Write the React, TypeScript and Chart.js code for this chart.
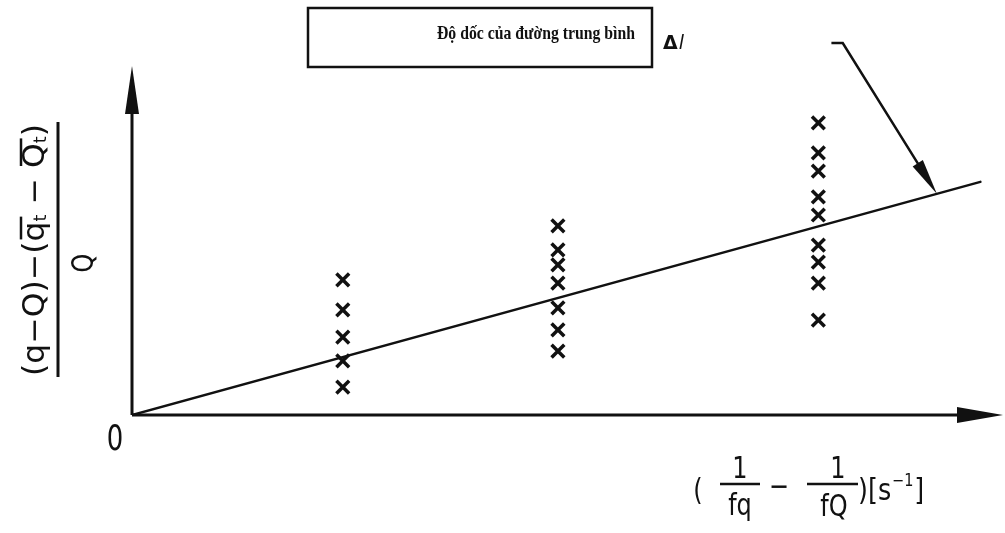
import React, { useEffect, useRef } from "react";
import { Chart, registerables } from "chart.js";

Chart.register(...registerables);

// Cluster x positions (units of 1/fq - 1/fQ, arbitrary)
const clusterX = [2.42, 4.89, 7.88];
// Measured values for each cluster
const cluster1Y = [3.87, 3.01, 2.23, 1.55, 0.8];
const cluster2Y = [5.42, 4.73, 4.3, 3.78, 3.07, 2.44, 1.83];
const cluster3Y = [8.37, 7.51, 6.99, 6.25, 5.73, 4.87, 4.38, 3.78, 2.72];
// Mean-slope line endpoints
const lineX = [0, 9.74];
const lineY = [0, 6.68];
// Δl arrow: start (elbow), bend, and tip x on the line
const deltaArrowStart = { x: 8.03, y: 10.66 };
const deltaArrowBend = { x: 8.16, y: 10.66 };
const deltaArrowTipX = 9.24;

const titleText = "Độ dốc của đường trung bình";

const INK = "#111";

function arrowHead(ctx: CanvasRenderingContext2D, tx: number, ty: number, fx: number, fy: number, len: number, half: number) {
  const dx = tx - fx, dy = ty - fy;
  const d = Math.hypot(dx, dy);
  const ux = dx / d, uy = dy / d;
  const bx = tx - ux * len, by = ty - uy * len;
  ctx.beginPath();
  ctx.moveTo(tx, ty);
  ctx.lineTo(bx - uy * half, by + ux * half);
  ctx.lineTo(bx + uy * half, by - ux * half);
  ctx.closePath();
  ctx.fill();
}

const decorPlugin = {
  id: "decor",
  afterDatasetsDraw(chart: any) {
    const ctx: CanvasRenderingContext2D = chart.ctx;
    const xs = chart.scales.x, ys = chart.scales.y;
    const ox = xs.getPixelForValue(0), oy = ys.getPixelForValue(0);
    const area = chart.chartArea;
    ctx.save();
    ctx.strokeStyle = INK;
    ctx.fillStyle = INK;
    ctx.lineCap = "butt";
    // axes
    ctx.lineWidth = 3;
    ctx.beginPath();
    ctx.moveTo(ox, oy);
    ctx.lineTo(ox, area.top + 40);
    ctx.moveTo(ox, oy);
    ctx.lineTo(area.right - 40, oy);
    ctx.stroke();
    arrowHead(ctx, ox, area.top, ox, oy, 48, 7);
    arrowHead(ctx, area.right, oy, ox, oy, 46, 8);

    // Δl arrow
    const sx = xs.getPixelForValue(deltaArrowStart.x), sy = ys.getPixelForValue(deltaArrowStart.y);
    const bx = xs.getPixelForValue(deltaArrowBend.x), by = ys.getPixelForValue(deltaArrowBend.y);
    const tipY = (deltaArrowTipX * lineY[1]) / lineX[1];
    const tx = xs.getPixelForValue(deltaArrowTipX), ty = ys.getPixelForValue(tipY);
    ctx.lineWidth = 2.5;
    ctx.beginPath();
    ctx.moveTo(sx, sy);
    ctx.lineTo(bx, by);
    const dd = Math.hypot(tx - bx, ty - by);
    ctx.lineTo(tx - ((tx - bx) / dd) * 20, ty - ((ty - by) / dd) * 20);
    ctx.stroke();
    arrowHead(ctx, tx, ty, bx, by, 36, 6);

    // Δl label
    ctx.textBaseline = "middle";
    ctx.textAlign = "left";
    ctx.font = "bold 19px 'DejaVu Sans'";
    ctx.fillText("Δ", 663, 44);
    const dw = ctx.measureText("Δ").width;
    ctx.font = "italic 19px 'DejaVu Sans'";
    ctx.fillText("l", 663 + dw + 1, 44);

    // title box
    ctx.lineWidth = 2.5;
    ctx.strokeRect(308, 8, 344, 59);
    ctx.save();
    ctx.font = "bold 19px 'Liberation Serif'";
    const tw = ctx.measureText(titleText).width;
    const ks = Math.min(1, 198 / tw);
    ctx.translate(635, 39);
    ctx.scale(ks, 1);
    ctx.textAlign = "right";
    ctx.textBaseline = "alphabetic";
    ctx.fillText(titleText, 0, 0);
    ctx.restore();

    // "0"
    ctx.save();
    ctx.translate(115, 441);
    ctx.scale(0.72, 1);
    ctx.font = "36px 'DejaVu Sans'";
    ctx.textAlign = "center";
    ctx.textBaseline = "middle";
    ctx.fillText("0", 0, 0);
    ctx.restore();

    // Y-axis label (rotated fraction)
    ctx.save();
    ctx.translate(58, 250);
    ctx.rotate(-Math.PI / 2);
    ctx.lineWidth = 3;
    ctx.beginPath();
    ctx.moveTo(-127, 0);
    ctx.lineTo(128, 0);
    ctx.stroke();
    const big = "30px 'DejaVu Sans'";
    const small = "17px 'DejaVu Sans'";
    type Piece = { t: string; f: string; bar?: boolean; sub?: boolean };
    const pieces: Piece[] = [
      { t: "(q−Q)−(", f: big },
      { t: "q", f: big, bar: true },
      { t: "t", f: small, sub: true },
      { t: " − ", f: big },
      { t: "Q", f: big, bar: true },
      { t: "t", f: small, sub: true },
      { t: ")", f: big },
    ];
    let total = 0;
    const widths = pieces.map((p) => {
      ctx.font = p.f;
      const w = ctx.measureText(p.t).width;
      total += w;
      return w;
    });
    const target = 252;
    const k = target / total;
    ctx.save();
    ctx.translate(-target / 2, -22);
    ctx.scale(k, 1);
    ctx.textAlign = "left";
    ctx.textBaseline = "middle";
    let cx = 0;
    pieces.forEach((p, i) => {
      ctx.font = p.f;
      ctx.fillText(p.t, cx, p.sub ? 6 : 0);
      if (p.bar) {
        ctx.lineWidth = 2.5;
        ctx.beginPath();
        ctx.moveTo(cx + 2, -15);
        ctx.lineTo(cx + widths[i] + (pieces[i + 1] ? widths[i + 1] : 0) - 2, -15);
        ctx.stroke();
      }
      cx += widths[i];
    });
    ctx.restore();
    ctx.save();
    ctx.translate(-13, 27);
    ctx.scale(0.8, 1);
    ctx.font = big;
    ctx.textAlign = "center";
    ctx.textBaseline = "middle";
    ctx.fillText("Q", 0, 0);
    ctx.restore();
    ctx.restore();

    // X-axis label
    ctx.save();
    const xf = "30px 'DejaVu Sans'";
    ctx.font = xf;
    ctx.textBaseline = "middle";
    ctx.textAlign = "center";
    const drawC = (t: string, x: number, y: number, sx = 0.8) => {
      ctx.save();
      ctx.translate(x, y);
      ctx.scale(sx, 1);
      ctx.fillText(t, 0, 0);
      ctx.restore();
    };
    drawC("(", 698, 492);
    drawC("1", 740, 470);
    drawC("fq", 740, 507);
    drawC("−", 779, 488);
    drawC("1", 838, 470);
    drawC("fQ", 834, 508);
    ctx.lineWidth = 2.5;
    ctx.beginPath();
    ctx.moveTo(720, 484);
    ctx.lineTo(760, 484);
    ctx.moveTo(807, 484);
    ctx.lineTo(858, 484);
    ctx.stroke();
    ctx.textAlign = "left";
    ctx.save();
    ctx.translate(858, 492);
    ctx.scale(0.85, 1);
    ctx.fillText(")[s", 0, 0);
    let w = ctx.measureText(")[s").width;
    ctx.font = "17px 'DejaVu Sans'";
    ctx.fillText("−1", w + 1, -10);
    w += ctx.measureText("−1").width + 2;
    ctx.font = xf;
    ctx.fillText("]", w, 0);
    ctx.restore();
    ctx.restore();

    ctx.restore();
  },
};

export default function App() {
  const ref = useRef<HTMLCanvasElement | null>(null);
  useEffect(() => {
    if (!ref.current) return;
    const pts = [
      ...cluster1Y.map((y) => ({ x: clusterX[0], y })),
      ...cluster2Y.map((y) => ({ x: clusterX[1], y })),
      ...cluster3Y.map((y) => ({ x: clusterX[2], y })),
    ];
    const chart = new Chart(ref.current, {
      type: "scatter",
      data: {
        datasets: [
          {
            type: "line",
            data: lineX.map((x, i) => ({ x, y: lineY[i] })),
            borderColor: INK,
            borderWidth: 2.5,
            pointRadius: 0,
            fill: false,
            tension: 0,
          } as any,
          {
            data: pts,
            pointStyle: "crossRot",
            pointRadius: 9,
            borderWidth: 3.5,
            borderColor: INK,
            backgroundColor: INK,
          },
        ],
      },
      options: {
        animation: false,
        responsive: false,
        devicePixelRatio: 1,
        layout: { autoPadding: false, padding: { left: 132, right: 2, top: 66, bottom: 118 } },
        plugins: { legend: { display: false }, tooltip: { enabled: false }, title: { display: false } },
        events: [],
        scales: {
          x: { type: "linear", min: 0, max: 10, display: false },
          y: { type: "linear", min: 0, max: 10, display: false },
        },
        elements: { line: { borderCapStyle: "round" } },
      },
      plugins: [decorPlugin],
    } as any);
    return () => chart.destroy();
  }, []);
  return (
    <div style={{ position: "absolute", left: 0, top: 0, width: 1005, height: 533, background: "#fff" }}>
      <canvas ref={ref} width={1005} height={533} />
    </div>
  );
}
